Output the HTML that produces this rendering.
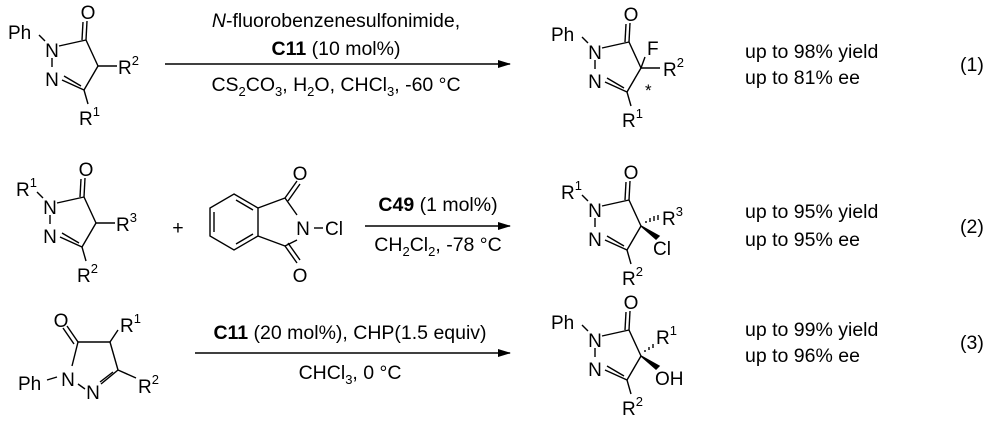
<!DOCTYPE html>
<html><head><meta charset="utf-8"><style>
html,body{margin:0;padding:0;background:#fff;}
svg{display:block;font-family:"Liberation Sans",Arial,sans-serif;}
text{font-size:19px;fill:#000;}
.s{font-size:13px;}
.t{font-size:19.5px;}
.t .s{font-size:13px;}
line,polyline,polygon{stroke:#000;stroke-width:1.4;fill:none;}
</style></head><body>
<svg width="1000" height="421" viewBox="0 0 1000 421" xmlns="http://www.w3.org/2000/svg">
<defs>
<g id="ring">
 <line x1="59" y1="46" x2="86" y2="40"/>
 <line x1="86" y1="40" x2="87" y2="21"/>
 <line x1="82" y1="40" x2="83" y2="22"/>
 <line x1="86" y1="40" x2="98" y2="66"/>
 <line x1="98" y1="66" x2="84" y2="90"/>
 <line x1="84" y1="90" x2="62" y2="80"/>
 <line x1="81" y1="86" x2="64" y2="76"/>
 <line x1="52" y1="58" x2="52" y2="67"/>
 <line x1="84" y1="90" x2="88" y2="104"/>
 <text x="52" y="57" text-anchor="middle">N</text>
 <text x="52" y="86" text-anchor="middle">N</text>
 <text x="88" y="19" text-anchor="middle">O</text>
</g>
<marker id="ah" markerWidth="13" markerHeight="8" refX="12" refY="4" orient="auto" markerUnits="userSpaceOnUse">
 <polygon points="0,0 13,4 0,8" style="fill:#000;stroke:none"/>
</marker>
</defs>

<!-- Row 1 reactant -->
<use href="#ring"/>
<text x="8" y="39">Ph</text>
<line x1="39" y1="35" x2="45" y2="41"/>
<line x1="98" y1="66" x2="117" y2="66"/>
<text x="118" y="74">R<tspan class="s" dy="-9">2</tspan></text>
<text x="79" y="125">R<tspan class="s" dy="-9">1</tspan></text>

<!-- Row 1 arrow -->
<line x1="165" y1="64" x2="510" y2="64" marker-end="url(#ah)"/>
<g class="t">
<text class="t" x="336" y="27" text-anchor="middle"><tspan font-style="italic">N</tspan>-fluorobenzenesulfonimide,</text>
<text class="t" x="336" y="55" text-anchor="middle"><tspan font-weight="bold">C11</tspan> (10 mol%)</text>
<text class="t" x="336" y="91" text-anchor="middle">CS<tspan class="s" dy="5">2</tspan><tspan dy="-5">CO</tspan><tspan class="s" dy="5">3</tspan><tspan dy="-5">, H</tspan><tspan class="s" dy="5">2</tspan><tspan dy="-5">O, CHCl</tspan><tspan class="s" dy="5">3</tspan><tspan dy="-5">, -60 °C</tspan></text>
</g>

<!-- Row 1 product -->
<g transform="translate(543,2)">
 <use href="#ring"/>
 <text x="8" y="39">Ph</text>
 <line x1="39" y1="35" x2="45" y2="41"/>
 <line x1="98" y1="66" x2="117" y2="66"/>
 <line x1="98" y1="66" x2="102" y2="55"/>
 <text x="104" y="53">F</text>
 <text x="120" y="74">R<tspan class="s" dy="-9">2</tspan></text>
 <text x="102" y="94" style="font-size:17px">*</text>
 <text x="79" y="125">R<tspan class="s" dy="-9">1</tspan></text>
</g>
<g class="t">
<text class="t" x="745" y="58">up to 98% yield</text>
<text class="t" x="745" y="84">up to 81% ee</text>
<text class="t" x="960" y="71">(1)</text>
</g>

<!-- Row 2 reactant -->
<g transform="translate(-2,157)">
 <use href="#ring"/>
 <text x="18" y="39">R<tspan class="s" dy="-9">1</tspan></text>
 <line x1="39" y1="35" x2="45" y2="41"/>
 <line x1="98" y1="66" x2="117" y2="66"/>
 <text x="118" y="74">R<tspan class="s" dy="-9">3</tspan></text>
 <text x="79" y="125">R<tspan class="s" dy="-9">2</tspan></text>
</g>
<text class="t" x="178" y="234" text-anchor="middle">+</text>

<!-- Phthalimide N-Cl -->
<polygon points="234,194 258,208 258,236 234,250 210,236 210,208"/>
<line x1="214" y1="212" x2="214" y2="232"/>
<line x1="236" y1="200" x2="253" y2="210"/>
<line x1="236" y1="244" x2="253" y2="234"/>
<line x1="258" y1="208" x2="285" y2="198"/>
<line x1="258" y1="236" x2="285" y2="246"/>
<line x1="285" y1="198" x2="297" y2="215"/>
<line x1="285" y1="246" x2="297" y2="240"/>
<line x1="285" y1="198" x2="297" y2="181"/>
<line x1="288" y1="201" x2="300" y2="184"/>
<line x1="285" y1="246" x2="297" y2="263"/>
<line x1="288" y1="243" x2="300" y2="260"/>
<text x="300" y="180" text-anchor="middle">O</text>
<text x="300" y="282" text-anchor="middle">O</text>
<text x="303" y="235" text-anchor="middle">N</text>
<line x1="314" y1="228" x2="323" y2="228"/>
<text x="325" y="235">Cl</text>

<!-- Row 2 arrow -->
<line x1="365" y1="226" x2="510" y2="226" marker-end="url(#ah)"/>
<g class="t">
<text class="t" x="438" y="211" text-anchor="middle"><tspan font-weight="bold">C49</tspan> (1 mol%)</text>
<text class="t" x="438" y="251" text-anchor="middle">CH<tspan class="s" dy="5">2</tspan><tspan dy="-5">Cl</tspan><tspan class="s" dy="5">2</tspan><tspan dy="-5">, -78 °C</tspan></text>
</g>

<!-- Row 2 product -->
<g transform="translate(543,160)">
 <use href="#ring"/>
 <text x="18" y="39">R<tspan class="s" dy="-9">1</tspan></text>
 <line x1="39" y1="35" x2="45" y2="41"/>
 <line x1="103" y1="63" x2="103" y2="61"/><line x1="107" y1="62" x2="107" y2="58"/><line x1="111" y1="61" x2="111" y2="56"/><line x1="115" y1="60" x2="115" y2="55"/>
 <polygon points="98,66 113,79 116,76" style="fill:#000"/>
 <text x="119" y="65">R<tspan class="s" dy="-9">3</tspan></text>
 <text x="110" y="95">Cl</text>
 <text x="79" y="125">R<tspan class="s" dy="-9">2</tspan></text>
</g>
<g class="t">
<text class="t" x="745" y="218">up to 95% yield</text>
<text class="t" x="745" y="246">up to 95% ee</text>
<text class="t" x="960" y="233">(2)</text>
</g>

<!-- Row 3 reactant -->
<line x1="78" y1="342" x2="67" y2="326"/>
<line x1="74" y1="344" x2="63" y2="328"/>
<text x="61" y="327" text-anchor="middle">O</text>
<line x1="78" y1="342" x2="110" y2="342"/>
<line x1="110" y1="342" x2="118" y2="330"/>
<text x="120" y="332">R<tspan class="s" dy="-9">1</tspan></text>
<line x1="110" y1="342" x2="118" y2="370"/>
<line x1="118" y1="370" x2="101" y2="384"/>
<line x1="113" y1="372" x2="100" y2="382"/>
<line x1="118" y1="370" x2="136" y2="378"/>
<text x="138" y="393">R<tspan class="s" dy="-9">2</tspan></text>
<line x1="78" y1="342" x2="72" y2="366"/>
<text x="68" y="386" text-anchor="middle">N</text>
<line x1="78" y1="384" x2="85" y2="389"/>
<text x="93" y="399" text-anchor="middle">N</text>
<line x1="47" y1="380" x2="57" y2="377"/>
<text x="18" y="390">Ph</text>

<!-- Row 3 arrow -->
<line x1="195" y1="353" x2="510" y2="353" marker-end="url(#ah)"/>
<g class="t">
<text class="t" x="350" y="339" text-anchor="middle"><tspan font-weight="bold">C11</tspan> (20 mol%), CHP(1.5 equiv)</text>
<text class="t" x="350" y="379" text-anchor="middle">CHCl<tspan class="s" dy="5">3</tspan><tspan dy="-5">, 0 °C</tspan></text>
</g>

<!-- Row 3 product -->
<g transform="translate(543,290)">
 <use href="#ring"/>
 <text x="8" y="39">Ph</text>
 <line x1="39" y1="35" x2="45" y2="41"/>
 <line x1="102" y1="62" x2="102" y2="60"/><line x1="106" y1="60" x2="106" y2="57"/><line x1="110" y1="58" x2="110" y2="54"/>
 <polygon points="98,66 113,79 116,76" style="fill:#000"/>
 <text x="113" y="54">R<tspan class="s" dy="-9">1</tspan></text>
 <text x="112" y="95">OH</text>
 <text x="79" y="125">R<tspan class="s" dy="-9">2</tspan></text>
</g>
<g class="t">
<text class="t" x="745" y="336">up to 99% yield</text>
<text class="t" x="745" y="362">up to 96% ee</text>
<text class="t" x="960" y="349">(3)</text>
</g>
</svg>
</body></html>
